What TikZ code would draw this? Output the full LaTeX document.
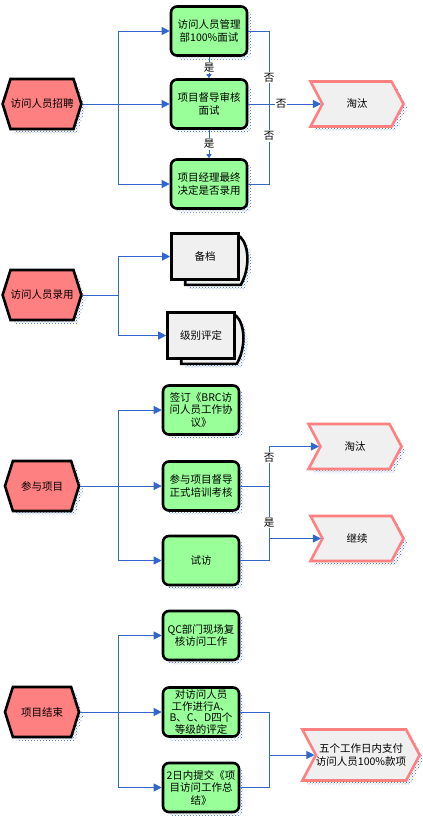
\documentclass[tikz,border=0pt]{standalone}
\usepackage{fontspec}
\newfontfamily\cjk{Noto Sans CJK SC}
\usepackage{xcolor}
\usetikzlibrary{shapes,arrows.meta,positioning,calc,patterns,shadows,backgrounds}
\definecolor{eventred}{HTML}{FF8080}
\definecolor{taskgreen}{HTML}{99FF99}
\definecolor{docgrey}{HTML}{F0F0F0}
\definecolor{flowblue}{HTML}{3366CC}

\begin{document}
\begin{tikzpicture}[
    x=1pt, y=-1pt,
    every node/.style={font=\cjk\fontsize{10.5}{12.5}\selectfont, align=center},
    dotshadow/.style={general shadow={shadow xshift=4pt, shadow yshift=-4pt, pattern=crosshatch dots, pattern color=flowblue}},
    event/.style={signal, signal to=west and east, signal pointer angle=145, draw, line width=2.6pt,
        fill=eventred, minimum width=74pt, minimum height=50pt, inner sep=0pt, dotshadow},
    task/.style={rectangle, rounded corners=6pt, draw, line width=2.6pt, fill=taskgreen,
        minimum width=76pt, minimum height=49pt, inner sep=1pt, dotshadow},
    result/.style={signal, signal to=east, signal from=west, signal pointer angle=124, draw=eventred,
        line width=2.6pt, fill=docgrey, minimum width=93pt, minimum height=45pt, inner sep=0pt, dotshadow},
    doc/.style={rectangle, draw, line width=2.6pt, fill=docgrey, minimum width=67pt, minimum height=46pt},
    docback/.style={draw, line width=2.6pt, fill=docgrey, dotshadow},
    link/.style={draw=flowblue, line width=0.8pt},
    flow/.style={link, -{Triangle[length=8pt,width=8pt]}},
    shortflow/.style={link, -{Triangle[length=4pt,width=5pt]}},
    tag/.style={fill=white, inner sep=1pt}
]
\useasboundingbox (0,0) rectangle (423,823);

% 招聘
\node[event] (hire) at (42,104) {访问人员招聘};
\node[task] (m1) at (209,31) {访问人员管理\\部100\%面试};
\node[task] (m2) at (209,104) {项目督导审核\\面试};
\node[task] (m3) at (209,184) {项目经理最终\\决定是否录用};
\node[result] (out1) at (357,104) {淘汰};
\coordinate (j1) at (118,104);
\coordinate (j2) at (269,104);
\draw[link] (hire.east) -- (j1);
\draw[flow] (j1) |- (m1.west);
\draw[flow] (j1) -- (m2.west);
\draw[flow] (j1) |- (m3.west);
\draw[shortflow] (m1.south) -- node[tag]{是} (m2.north);
\draw[shortflow] (m2.south) -- node[tag]{是} (m3.north);
\draw[link] (m1.east) -| node[tag, pos=0.82]{否} (j2);
\draw[link] (m3.east) -| node[tag, pos=0.8]{否} (j2);
\draw[flow] (m2.east) -- node[tag, pos=0.45]{否} (out1.west);

% 录用
\node[event] (rec) at (42,295) {访问人员录用};
\node[doc] (d1) at (205,256.5) {备档};
\node[doc] (d2) at (201,335.5) {级别评定};
\begin{scope}[on background layer]
  \foreach \d in {d1,d2}
    \draw[docback] ([yshift=-4pt]\d.north east)
      .. controls ([xshift=10pt,yshift=-14pt]\d.north east) and ([xshift=10pt,yshift=12pt]\d.south east)
      .. ([xshift=1pt,yshift=-4pt]\d.south east) -- ([xshift=15pt,yshift=-4pt]\d.south west)
      -- ([xshift=15pt]\d.south west);
\end{scope}
\coordinate (j3) at (118,295);
\draw[link] (rec.east) -- (j3);
\draw[flow] (j3) |- (d1.west);
\draw[flow] (j3) |- (d2.west);

% 参与项目
\node[event] (join) at (42,486) {参与项目};
\node[task] (p1) at (201,410) {签订《BRC访\\问人员工作协\\议》};
\node[task] (p2) at (201,486) {参与项目督导\\正式培训考核};
\node[task] (p3) at (201,560.5) {试访};
\node[result] (out2) at (355,446.5) {淘汰};
\node[result] (out3) at (357,538.5) {继续};
\coordinate (j4) at (118,486);
\coordinate (j5) at (269,486);
\draw[link] (join.east) -- (j4);
\draw[flow] (j4) |- (p1.west);
\draw[flow] (j4) -- (p2.west);
\draw[flow] (j4) |- (p3.west);
\draw[link] (p3.east) -| (j5);
\draw[link] (p2.east) -- (j5);
\draw[flow] (j5) |- node[tag, pos=0.36]{否} (out2.west);
\draw[flow] (j5) |- node[tag, pos=0.35]{是} (out3.west);

% 项目结束
\node[event] (done) at (42,712) {项目结束};
\node[task] (e1) at (201,635.5) {QC部门现场复\\核访问工作};
\node[task, font=\cjk\fontsize{10.5}{11.8}\selectfont] (e2) at (201,712) {对访问人员\\工作进行A、\\B、C、D四个\\等级的评定};
\node[task] (e3) at (201,787.5) {2日内提交《项\\目访问工作总\\结》};
\node[result, minimum width=102pt, minimum height=51pt] (pay) at (361,755) {五个工作日内支付\\访问人员100\%款项};
\coordinate (j6) at (118,712);
\coordinate (j7) at (269,755);
\draw[link] (done.east) -- (j6);
\draw[flow] (j6) |- (e1.west);
\draw[flow] (j6) -- (e2.west);
\draw[flow] (j6) |- (e3.west);
\draw[link] (e2.east) -| (j7);
\draw[link] (e3.east) -| (j7);
\draw[flow] (j7) -- (pay.west);
\end{tikzpicture}
\end{document}
